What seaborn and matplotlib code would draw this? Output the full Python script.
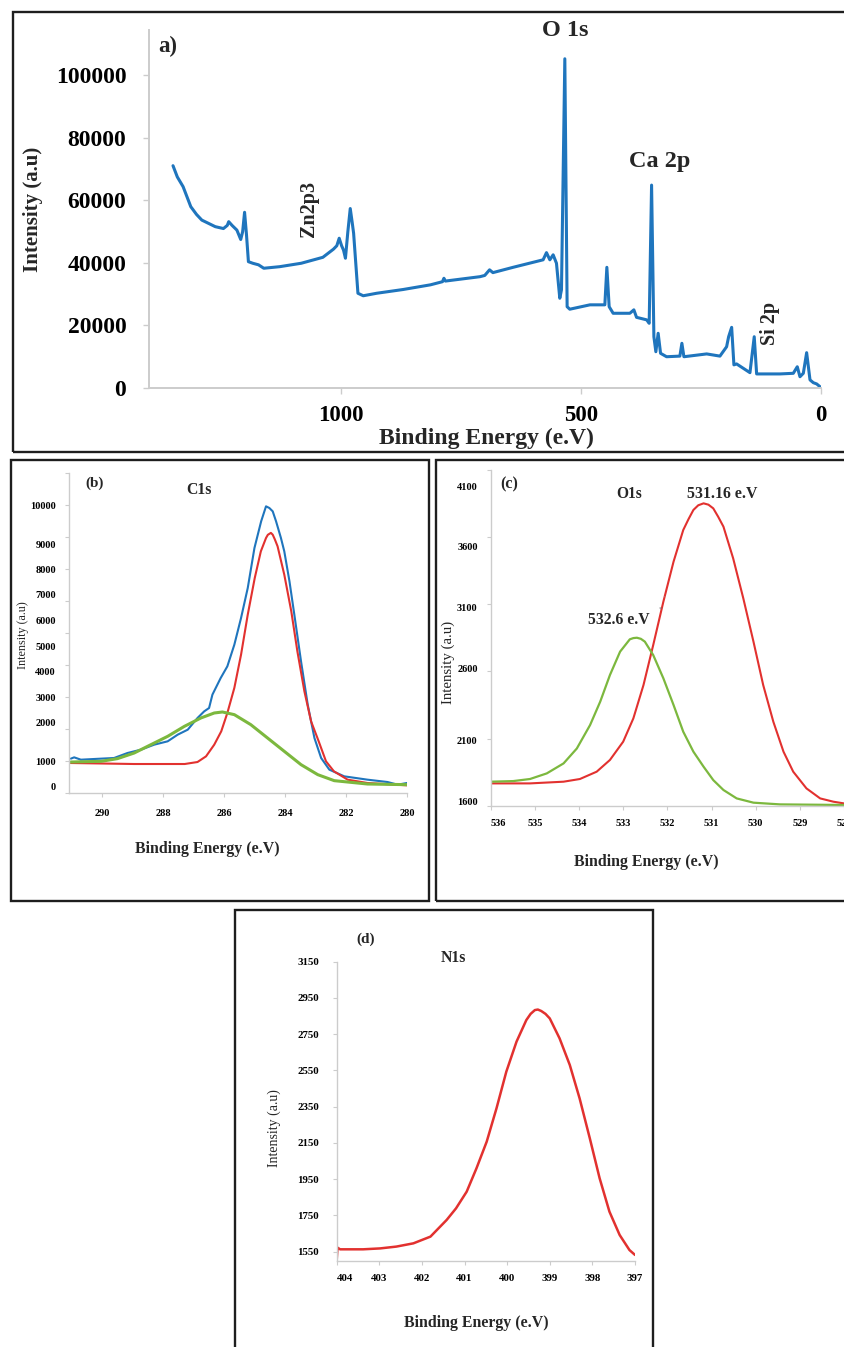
import numpy as np
import matplotlib
matplotlib.use("Agg")
import matplotlib.pyplot as plt
import matplotlib.transforms as mtransforms
from matplotlib.patches import Rectangle
import seaborn as sns

# ---------------- data ----------------
# (a) survey spectrum
a_energy = [1349, 1340, 1328, 1312, 1300, 1289, 1261, 1244, 1236, 1233, 1226, 1216, 1208, 1204,
            1200, 1196, 1192, 1183, 1171, 1160, 1127, 1082, 1037, 1015, 1008, 1003, 998, 994, 990,
            985, 980, 976, 973, 964, 953, 925, 870, 813, 788, 785, 782, 710, 700, 690, 683, 641,
            578.5, 571.5, 564.5, 557.6, 550.7, 543.8, 540.3, 533.3, 528.5, 523, 481, 450, 445.8,
            441, 432.7, 397.9, 389.6, 384, 363, 357.7, 352.7, 347.9, 343.8, 339, 334, 321.5, 293.8,
            289.6, 285.4, 238, 210.4, 196.5, 192.3, 186, 181.3, 175.7, 161.8, 147.9, 139, 134, 85.4,
            57.7, 49.4, 43.8, 36.8, 29.9, 22.9, 16, 9, 2]
a_intensity = [71100, 67500, 64400, 58000, 55500, 53700, 51600, 51000, 52000, 53200, 52000, 50500,
               47500, 50000, 56200, 49000, 40400, 39900, 39400, 38300, 38800, 39900, 41800, 44400,
               45500, 47900, 45500, 44100, 41500, 50000, 57400, 53000, 49500, 30300, 29500, 30300,
               31500, 33000, 34000, 35100, 34200, 35600, 36000, 37800, 36900, 38600, 41000, 43300,
               41000, 42600, 39900, 28700, 31400, 105300, 26000, 25200, 26600, 26600, 38600, 26000,
               23900, 23900, 25000, 22600, 21800, 20700, 64900, 16400, 11600, 17500, 11100, 10000,
               10200, 14300, 10000, 10900, 10200, 13200, 16400, 19400, 7400, 7700, 6300, 4900, 16400,
               4500, 4500, 4700, 6800, 3600, 4700, 11300, 2600, 1700, 1300, 400]
a_xticks = [1000, 500, 0]
a_yticks = [0, 20000, 40000, 60000, 80000, 100000]

# (b) C1s
b_exp_energy = [291.04, 290.93, 290.71, 290.05, 289.62, 289.18, 288.74, 288.30, 287.86, 287.53,
                287.20, 286.88, 286.66, 286.50, 286.39, 286.12, 285.90, 285.67, 285.45, 285.23,
                285.01, 284.79, 284.63, 284.52, 284.41, 284.30, 284.14, 284.03, 283.86, 283.70,
                283.48, 283.26, 283.04, 282.82, 282.55, 282.06, 281.30, 280.64, 280.31, 280.00]
b_exp_intensity = [1070, 1104, 1043, 1070, 1087, 1217, 1304, 1435, 1522, 1696, 1826, 2195, 2454,
                   2584, 3104, 3740, 4200, 5065, 6104, 7276, 8844, 9591, 9983, 9939, 9852, 9591,
                   9157, 8714, 7542, 6234, 4400, 2714, 1609, 1087, 667, 400, 267, 173, 67, 133]
b_red_energy = [291.04, 288.96, 287.30, 286.88, 286.60, 286.33, 286.10, 285.90, 285.67, 285.45,
                285.23, 285.00, 284.80, 284.63, 284.57, 284.47, 284.41, 284.34, 284.25, 284.03,
                283.80, 283.60, 283.37, 283.15, 282.90, 282.66, 282.40, 281.95, 281.30, 280.00]
b_red_intensity = [933, 893, 893, 973, 1130, 1435, 1783, 2390, 3364, 4667, 6234, 7671, 8714, 9157,
                   9240, 9290, 9243, 9120, 8909, 7803, 6364, 4800, 3234, 2065, 1522, 1000, 600, 267,
                   133, 40]
b_green_energy = [291.04, 290.05, 289.51, 288.96, 288.41, 287.86, 287.31, 286.77, 286.33, 286.06,
                  285.67, 285.13, 284.58, 284.03, 283.48, 282.93, 282.39, 281.30, 280.00]
b_green_intensity = [973, 1000, 1070, 1217, 1435, 1652, 1913, 2195, 2390, 2429, 2325, 1957, 1609,
                     1261, 867, 467, 227, 93, 67]
b_xticks = [290, 288, 286, 284, 282, 280]
b_yticks = [0, 1000, 2000, 3000, 4000, 5000, 6000, 7000, 8000, 9000, 10000]

# (c) O1s
c_red_energy = [536.0, 535.11, 534.35, 533.98, 533.6, 533.3, 533.0, 532.77, 532.54, 532.32, 532.09,
                531.86, 531.64, 531.52, 531.41, 531.30, 531.18, 531.07, 530.96, 530.85, 530.73,
                530.51, 530.28, 530.05, 529.83, 529.6, 529.37, 529.15, 528.85, 528.54, 528.24,
                528.0]
c_red_intensity = [1750, 1750, 1764, 1786, 1846, 1942, 2092, 2254, 2485, 2791, 3147, 3476, 3739,
                   3830, 3906, 3945, 3961, 3950, 3919, 3850, 3767, 3504, 3174, 2819, 2485, 2231,
                   2010, 1846, 1709, 1627, 1600, 1586]
c_green_energy = [536.0, 535.49, 535.11, 534.73, 534.35, 534.05, 533.75, 533.52, 533.3, 533.07,
                  532.85, 532.77, 532.69, 532.60, 532.51, 532.32, 532.09, 531.86, 531.64, 531.41,
                  531.18, 530.96, 530.73, 530.43, 530.05, 529.45, 528.0]
c_green_intensity = [1764, 1769, 1786, 1832, 1914, 2036, 2208, 2370, 2554, 2737, 2838, 2848, 2851,
                     2842, 2819, 2709, 2531, 2347, 2162, 2010, 1887, 1777, 1696, 1627, 1592, 1578,
                     1573]
c_xticks = [536, 535, 534, 533, 532, 531, 530, 529, 528]
c_yticks = [1600, 2100, 2600, 3100, 3600, 4100]

# (d) N1s
d_energy = [404.0, 403.98, 403.92, 403.38, 402.98, 402.6, 402.2, 401.8, 401.42, 401.2, 400.95,
            400.72, 400.48, 400.25, 400.02, 399.78, 399.55, 399.45, 399.35, 399.28, 399.2, 399.1,
            399.0, 398.77, 398.53, 398.3, 398.06, 397.83, 397.6, 397.36, 397.13, 397.0]
d_intensity = [1504, 1572, 1563, 1563, 1568, 1578, 1596, 1633, 1725, 1789, 1881, 2010, 2157, 2341,
               2543, 2709, 2828, 2862, 2883, 2886, 2878, 2862, 2837, 2727, 2580, 2396, 2175, 1955,
               1771, 1642, 1559, 1532]
d_xticks = [404, 403, 402, 401, 400, 399, 398, 397]
d_yticks = [1550, 1750, 1950, 2150, 2350, 2550, 2750, 2950, 3150]

# ---------------- style ----------------
sns.set_theme(style="white")
plt.rcParams['font.family'] = ['Liberation Serif', 'DejaVu Serif']
plt.rcParams['font.weight'] = 'bold'
plt.rcParams['axes.unicode_minus'] = False

BLUE = '#1f75bd'
RED = '#e2312f'
GREEN = '#7cb83e'
SPINE = '#cccccc'

W, H = 844, 1347
fig = plt.figure(figsize=(W / 100, H / 100), dpi=100)
fig.patch.set_facecolor('white')


def ax_at(x0, y0, x1, y1):
    return fig.add_axes([x0 / W, 1 - y1 / H, (x1 - x0) / W, (y1 - y0) / H])


def ftext(x, y, s, **kw):
    kw.setdefault('ha', 'center')
    kw.setdefault('va', 'center')
    fig.text(x / W, 1 - y / H, s, **kw)


def frame(x0, y0, x1, y1):
    r = Rectangle((x0 / W, 1 - y1 / H), (x1 - x0) / W, (y1 - y0) / H, transform=fig.transFigure,
                  fill=False, lw=1.7, ec='#1e1e1e', clip_on=False)
    fig.add_artist(r)


def base_style(ax, lw):
    for side in ['top', 'right']:
        ax.spines[side].set_visible(False)
    for side in ['left', 'bottom']:
        ax.spines[side].set_color(SPINE)
        ax.spines[side].set_linewidth(lw)
    ax.set_facecolor('none')
    ax.grid(False)
    ax.set_xlabel('')
    ax.set_ylabel('')
    ax.tick_params(which='both', bottom=True, left=True, direction='out', color=SPINE,
                   labelcolor='black')


def piecewise(vals, pos):
    vals = np.asarray(vals, float)
    pos = np.asarray(pos, float)

    def make(xs, ys):
        s0 = (ys[1] - ys[0]) / (xs[1] - xs[0])
        s1 = (ys[-1] - ys[-2]) / (xs[-1] - xs[-2])

        def f(v):
            v = np.asarray(v, float)
            out = np.interp(v, xs, ys)
            out = np.where(v < xs[0], ys[0] + (v - xs[0]) * s0, out)
            out = np.where(v > xs[-1], ys[-1] + (v - xs[-1]) * s1, out)
            return out
        return f
    return make(vals, pos), make(pos, vals)


def shift_first_xlabel(ax, dx_px):
    off = mtransforms.ScaledTranslation(dx_px / 100, 0, fig.dpi_scale_trans)
    lab = ax.get_xticklabels()[0]
    lab.set_transform(lab.get_transform() + off)


# ---------------- panel frames ----------------
frame(13, 12, 860, 452)
frame(11, 460, 429, 901)
frame(436, 460, 860, 901)
frame(235, 910, 653, 1360)

# ---------------- (a) ----------------
ax = ax_at(148.5, 30, 821, 388)
sns.lineplot(x=a_energy, y=a_intensity, ax=ax, color=BLUE, linewidth=2.2, sort=False,
             estimator=None)
base_style(ax, 1.4)
ax.set_xlim(1400, 0)
ax.set_ylim(0, 114500)
ax.set_xticks(a_xticks, labels=[str(t) for t in a_xticks])
ax.set_yticks(a_yticks, labels=[str(t) for t in a_yticks])
ax.tick_params(axis='x', length=4, width=1, pad=8, labelsize=16.5)
ax.tick_params(axis='y', length=4, width=1, pad=12, labelsize=17)
ftext(168, 46, 'a)', fontsize=16.5)
ftext(565, 31, 'O 1s', fontsize=17.5)
ftext(660, 161, 'Ca 2p', fontsize=17.5)
ftext(309, 209, 'Zn2p3', fontsize=14.5, rotation=90)
ftext(770, 323, 'Si 2p', fontsize=14.5, rotation=90)
ftext(486, 438, 'Binding Energy (e.V)', fontsize=17)
ftext(33, 209, 'Intensity (a.u)', fontsize=15, rotation=90)

# ---------------- (b) ----------------
ax = ax_at(69, 473, 407, 793)
sns.lineplot(x=b_exp_energy, y=b_exp_intensity, ax=ax, color=BLUE, linewidth=1.5, sort=False,
             estimator=None)
sns.lineplot(x=b_red_energy, y=b_red_intensity, ax=ax, color=RED, linewidth=1.5, sort=False,
             estimator=None)
sns.lineplot(x=b_green_energy, y=b_green_intensity, ax=ax, color=GREEN, linewidth=2.2, sort=False,
             estimator=None)
base_style(ax, 1.0)
fwd, inv = piecewise(b_yticks, np.array([20, 95, 210, 287, 365, 440, 517, 594, 670, 747, 862]) / 3)
ax.set_yscale('function', functions=(fwd, inv))
ax.set_ylim(float(inv(0)), float(inv(320)))
ax.set_xlim(291.1, 280)
ax.set_xticks(b_xticks, labels=[str(t) for t in b_xticks])
ax.set_yticks(b_yticks, labels=[str(t) for t in b_yticks])
ax.set_yticks(inv(np.linspace(0, 320, 11)), minor=True)
ax.set_xticks([], minor=True)
ax.tick_params(axis='x', which='major', length=3, width=0.8, pad=8.5, labelsize=7.5)
ax.tick_params(axis='y', which='major', length=0, pad=9.4, labelsize=7.5)
ax.tick_params(axis='y', which='minor', length=3, width=0.8)
ftext(95, 483, '(b)', fontsize=11)
ftext(199, 490, 'C1s', fontsize=11.3)
ftext(207, 849, 'Binding Energy (e.V)', fontsize=11.4)
ftext(23, 635, 'Intensity (a.u)', fontsize=8.7, rotation=90, fontweight='normal')

# ---------------- (c) ----------------
ax = ax_at(490.7, 470, 844, 805.7)
sns.lineplot(x=c_red_energy, y=c_red_intensity, ax=ax, color=RED, linewidth=1.5, sort=False,
             estimator=None)
sns.lineplot(x=c_green_energy, y=c_green_intensity, ax=ax, color=GREEN, linewidth=1.6, sort=False,
             estimator=None)
base_style(ax, 1.0)
fwd, inv = piecewise(c_yticks, np.array([12, 195, 412, 595, 777, 957]) / 3)
ax.set_yscale('function', functions=(fwd, inv))
ax.set_ylim(float(inv(0)), float(inv(1007 / 3)))
ax.set_xlim(536, 528)
ax.set_xticks(c_xticks, labels=[str(t) for t in c_xticks])
ax.set_yticks(c_yticks, labels=[str(t) for t in c_yticks])
ax.set_yticks(inv(np.linspace(0, 1007 / 3, 6)), minor=True)
ax.set_xticks([], minor=True)
ax.tick_params(axis='x', which='major', length=3, width=0.8, pad=6.7, labelsize=7.5)
ax.tick_params(axis='y', which='major', length=0, pad=9.4, labelsize=7.5)
ax.tick_params(axis='y', which='minor', length=3, width=0.8)
shift_first_xlabel(ax, 8)
ftext(509, 484, '(c)', fontsize=11.5)
ftext(629, 494, 'O1s', fontsize=11.2)
ftext(722, 494, '531.16 e.V', fontsize=11.4)
ftext(619, 620, '532.6 e.V', fontsize=11.3)
ftext(660, 609, '*', fontsize=5, color='#777777', fontweight='normal')
ftext(664, 598, "'", fontsize=4, color='#999999', fontweight='normal')
ftext(646, 862, 'Binding Energy (e.V)', fontsize=11.4)
ftext(448, 662, 'Intensity (a.u)', fontsize=10.7, rotation=90, fontweight='normal')

# ---------------- (d) ----------------
ax = ax_at(336.7, 961.7, 635, 1261)
sns.lineplot(x=d_energy, y=d_intensity, ax=ax, color=RED, linewidth=1.8, sort=False,
             estimator=None)
base_style(ax, 1.0)
ax.set_xlim(404, 397)
ax.set_ylim(1498.5, 3150)
ax.set_xticks(d_xticks, labels=[str(t) for t in d_xticks])
ax.set_yticks(d_yticks, labels=[str(t) for t in d_yticks])
ax.tick_params(axis='x', which='major', length=3, width=0.8, pad=6.5, labelsize=7.8)
ax.tick_params(axis='y', which='major', length=3, width=0.8, pad=9.9, labelsize=7.8)
shift_first_xlabel(ax, 8)
ftext(366, 939, '(d)', fontsize=11)
ftext(453, 958, 'N1s', fontsize=11.3)
ftext(476, 1323, 'Binding Energy (e.V)', fontsize=11.4)
ftext(274, 1128, 'Intensity (a.u)', fontsize=10, rotation=90, fontweight='normal')

fig.savefig('out.png', dpi=100, facecolor='white')
